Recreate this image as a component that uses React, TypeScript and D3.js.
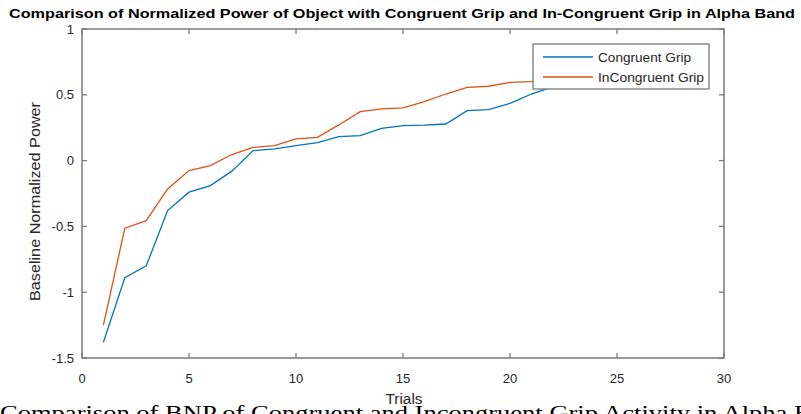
import React from "react";
import * as d3 from "d3";

const trials = [1, 2, 3, 4, 5, 6, 7, 8, 9, 10, 11, 12, 13, 14, 15, 16, 17, 18, 19, 20, 21, 22, 23];
const congruent = [-1.38, -0.89, -0.8, -0.38, -0.24, -0.19, -0.08, 0.076, 0.089, 0.114, 0.137, 0.182, 0.19, 0.245, 0.266, 0.27, 0.278, 0.38, 0.387, 0.435, 0.506, 0.56, 0.6];
const incongruent = [-1.25, -0.514, -0.456, -0.215, -0.076, -0.038, 0.046, 0.1, 0.114, 0.165, 0.177, 0.271, 0.372, 0.393, 0.4, 0.448, 0.506, 0.557, 0.565, 0.595, 0.6, 0.62, 0.65];
const xTicks = [0, 5, 10, 15, 20, 25, 30];
const yTicks = [-1.5, -1, -0.5, 0, 0.5, 1];
const seriesNames = ["Congruent Grip", "InCongruent Grip"];
const seriesColors = ["#0072BD", "#D95319"];

const W = 801, H = 414;
const L = 82, R = 724, T = 29, B = 358;

export default function App() {
  const x = d3.scaleLinear().domain([0, 30]).range([L, R]);
  const y = d3.scaleLinear().domain([-1.5, 1]).range([B, T]);
  const line = d3.line<number>().x((_, i) => x(trials[i])).y((d) => y(d));
  const series = [congruent, incongruent];
  const axisColor = "#7a7a7a";
  const textColor = "#262626";
  const font = "'Liberation Sans', Arial, Helvetica, sans-serif";
  const lg = { x: 533, y: 44, w: 176, h: 45 };
  const legendLens = [93, 106];
  return (
    <svg width={W} height={H} style={{ position: "absolute", left: 0, top: 0, background: "#fff" }} fontFamily={font}>
      <rect x={0} y={0} width={W} height={H} fill="#fff" />
      {series.map((s, i) => (
        <path key={i} d={line(s) || ""} fill="none" stroke={seriesColors[i]} strokeWidth={1.3} />
      ))}
      <rect x={L} y={T} width={R - L} height={B - T} fill="none" stroke={axisColor} strokeWidth={1.5} />
      {xTicks.map((t) => (
        <g key={"x" + t}>
          <line x1={x(t)} x2={x(t)} y1={B} y2={B - 5} stroke={axisColor} strokeWidth={1.3} />
          <line x1={x(t)} x2={x(t)} y1={T} y2={T + 5} stroke={axisColor} strokeWidth={1.3} />
          <text x={x(t)} y={383} textAnchor="middle" fontSize={13} fill={textColor}>{t}</text>
        </g>
      ))}
      {yTicks.map((t) => (
        <g key={"y" + t}>
          <line x1={L} x2={L + 5} y1={y(t)} y2={y(t)} stroke={axisColor} strokeWidth={1.3} />
          <line x1={R} x2={R - 5} y1={y(t)} y2={y(t)} stroke={axisColor} strokeWidth={1.3} />
          <text x={74} y={y(t) + 4.5} textAnchor="end" fontSize={13} fill={textColor}>{t}</text>
        </g>
      ))}
      <text x={402} y={18} textAnchor="middle" fontSize={13} fontWeight="bold" fill="#000" textLength={786} lengthAdjust="spacingAndGlyphs">
        Comparison of Normalized Power of Object with Congruent Grip and In-Congruent Grip in Alpha Band
      </text>
      <text transform={`translate(40,${(T + B) / 2 + 8}) rotate(-90)`} textAnchor="middle" fontSize={14} fill={textColor} textLength={199} lengthAdjust="spacingAndGlyphs">
        Baseline Normalized Power
      </text>
      <g>
        <rect x={lg.x} y={lg.y} width={lg.w} height={lg.h} fill="#fff" stroke={axisColor} strokeWidth={1.3} />
        {seriesNames.map((n, i) => (
          <g key={n}>
            <line x1={543} x2={593} y1={57 + i * 20} y2={57 + i * 20} stroke={seriesColors[i]} strokeWidth={1.3} />
            <text x={598} y={61.5 + i * 20} fontSize={12.5} fill={textColor} textLength={legendLens[i]} lengthAdjust="spacingAndGlyphs">{n}</text>
          </g>
        ))}
      </g>
      <text x={0} y={420} fontFamily="'Liberation Serif', 'DejaVu Serif', serif" fontSize={22} fill="#000" textLength={850} lengthAdjust="spacingAndGlyphs">
        Comparison of BNP of Congruent and Incongruent Grip Activity in Alpha Band
      </text>
      <text x={404} y={404} textAnchor="middle" fontSize={14} fill={textColor} textLength={37} lengthAdjust="spacingAndGlyphs">Trials</text>
    </svg>
  );
}
